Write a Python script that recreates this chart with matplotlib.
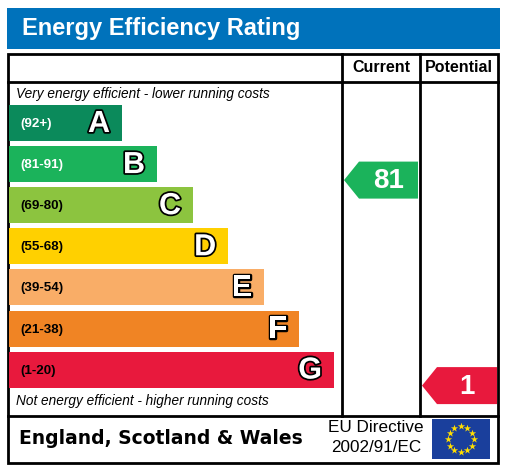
import numpy as np
import matplotlib
matplotlib.use("Agg")
import matplotlib.pyplot as plt
from matplotlib.patches import Rectangle, Polygon
import matplotlib.patheffects as pe

# ratings data
bands = ["A", "B", "C", "D", "E", "F", "G"]
ranges = ["(92+)", "(81-91)", "(69-80)", "(55-68)", "(39-54)", "(21-38)", "(1-20)"]
band_floor = [92, 81, 69, 55, 39, 21, 1]
band_colors = ["#0b8a5b", "#1bb35b", "#8cc43f", "#ffd000", "#f9ad67", "#f08424", "#e8193d"]
current = 81
potential = 1

W, H = 509, 467
fig = plt.figure(figsize=(W / 100, H / 100), dpi=100)
ax = fig.add_axes([0, 0, 1, 1])
ax.set_xlim(0, W)
ax.set_ylim(H, 0)
ax.axis("off")

sans = "Liberation Sans"

# title bar
ax.add_patch(Rectangle((7, 8), 493, 41, color="#0072bb", lw=0))
ax.text(22, 29, "Energy Efficiency Rating", color="white", fontsize=17,
        fontweight="bold", family=sans, va="center", ha="left")

# frame
lw = 2
ax.add_patch(Rectangle((8, 54), 490, 409, fill=False, ec="black", lw=lw))
ax.plot([8, 498], [82, 82], color="black", lw=lw)
ax.plot([8, 498], [416, 416], color="black", lw=lw)
ax.plot([342, 342], [54, 416], color="black", lw=lw)
ax.plot([420, 420], [54, 416], color="black", lw=lw)

ax.text(381, 68, "Current", fontsize=11.5, fontweight="bold", family=sans,
        ha="center", va="center")
ax.text(459, 68, "Potential", fontsize=11.5, fontweight="bold", family=sans,
        ha="center", va="center")

ax.text(16, 94, "Very energy efficient - lower running costs", fontsize=9.8,
        style="italic", family=sans, ha="left", va="center")
ax.text(16, 401, "Not energy efficient - higher running costs", fontsize=9.8,
        style="italic", family=sans, ha="left", va="center")

# bands
x0 = 9
top0, step, bh = 105, 41.1, 36
rights = [122, 157, 193, 228, 264, 299, 334]
centers = []
for i, b in enumerate(bands):
    top = top0 + i * step
    yc = top + bh / 2
    centers.append(yc)
    ax.barh(yc, rights[i] - x0, left=x0, height=bh, color=band_colors[i], lw=0)
    ax.text(20, yc + 1, ranges[i], fontsize=9.6, fontweight="bold", family=sans,
            color="white" if i < 2 else "black", ha="left", va="center")
    ax.text(rights[i] - 12, yc + 1, b, fontsize=22, fontweight="bold", family=sans,
            color="white", ha="right", va="center",
            path_effects=[pe.withStroke(linewidth=2.5, foreground="black")])


def band_index(v):
    for i, f in enumerate(band_floor):
        if v >= f:
            return i
    return len(band_floor) - 1


def arrow(v, xl, xr):
    i = band_index(v)
    yc = centers[i] + 16
    half = 18.5
    tip = 15
    ax.add_patch(Polygon([(xl, yc), (xl + tip, yc - half), (xr, yc - half),
                          (xr, yc + half), (xl + tip, yc + half)],
                         closed=True, color=band_colors[i], lw=0))
    ax.text((xl + tip + xr) / 2, yc + 1, str(v), fontsize=20, fontweight="bold",
            family=sans, color="white", ha="center", va="center")


arrow(current, 344, 418)
arrow(potential, 422, 497)

# footer
ax.text(19, 438, "England, Scotland & Wales", fontsize=13.5, fontweight="bold",
        family="DejaVu Sans", ha="left", va="center")
ax.text(376, 428, "EU Directive", fontsize=12.3, family=sans, ha="center", va="center")
ax.text(376, 448, "2002/91/EC", fontsize=12.3, family=sans, ha="center", va="center")

# EU flag
ax.add_patch(Rectangle((432, 419), 58, 40, color="#1a3f9c", lw=0))
ang = np.linspace(0, 2 * np.pi, 12, endpoint=False)
ax.scatter(461 + 13 * np.cos(ang), 439 + 13 * np.sin(ang), marker="*", s=30,
           color="#ffdd00", lw=0)

fig.savefig("out.png", dpi=100)
